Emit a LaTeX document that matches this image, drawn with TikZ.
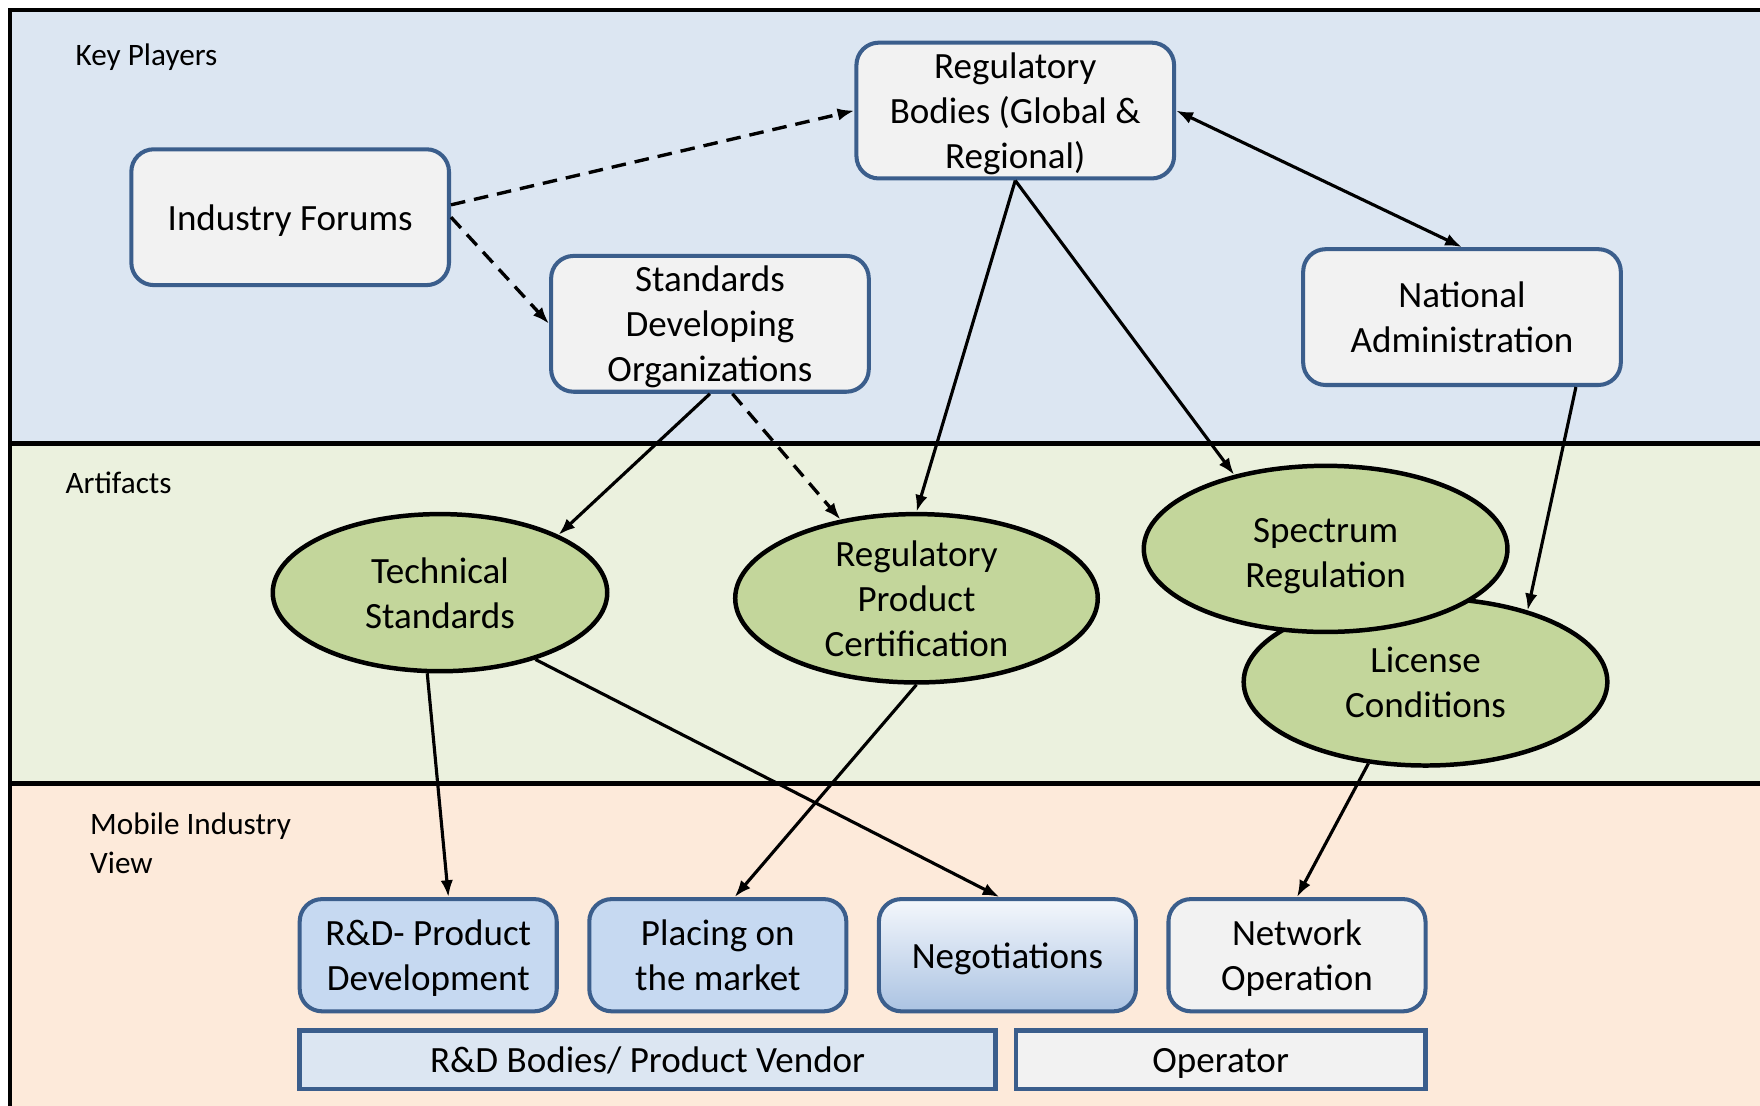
\documentclass[tikz,border=0pt]{standalone}
\usepackage{fontspec}
\setmainfont{Carlito}
\usetikzlibrary{arrows.meta,calc,shapes.geometric}

\definecolor{bandplayers}{HTML}{DCE6F2}
\definecolor{bandartifacts}{HTML}{EBF1DE}
\definecolor{bandindustry}{HTML}{FDEADA}
\definecolor{boxgray}{HTML}{F2F2F2}
\definecolor{boxedge}{HTML}{3B5E8C}
\definecolor{artifactgreen}{HTML}{C3D69B}
\definecolor{vendorblue}{HTML}{C6D9F1}
\definecolor{vendorbar}{HTML}{DCE6F2}
\definecolor{negtop}{HTML}{F4F7FC}
\definecolor{negmid}{HTML}{C4D6EC}
\definecolor{negbottom}{HTML}{ABC3E2}

\begin{document}
\begin{tikzpicture}[x=0.5pt,y=-0.5pt,
  nodefont/.style={font=\fontsize{16.5}{20}\selectfont},
  % text boxes centred on the capital letters of the lines
  oneline/.style={text height=11.6pt, text depth=0pt},
  twolines/.style={text height=31.6pt, text depth=0pt},
  threelines/.style={text height=51.6pt, text depth=0pt},
  player/.style={rectangle, rounded corners=10pt, draw=boxedge, line width=1.8pt,
    fill=boxgray, minimum width=141.5pt, minimum height=60.5pt, inner sep=0pt,
    align=center, nodefont},
  artifact/.style={ellipse, draw=black, line width=2pt, fill=artifactgreen,
    inner sep=-4pt, align=center, nodefont},
  activity/.style={player, minimum width=114.5pt, minimum height=50pt},
  bar/.style={rectangle, draw=boxedge, line width=2pt, minimum height=26pt,
    inner sep=0pt, nodefont, oneline},
  lane/.style={anchor=west, align=left, inner sep=0pt,
    font=\fontsize{13.9}{17.5}\selectfont},
  link/.style={line width=1.4pt, -{Latex[length=7.5pt,width=5.5pt]}},
  twoway/.style={line width=1.4pt, {Latex[length=7.5pt,width=5.5pt]}-{Latex[length=7.5pt,width=5.5pt]}},
  softlink/.style={link, line width=1.5pt, dash pattern=on 6.5pt off 4pt},
  frame/.style={line width=2pt, line join=miter},
]
\useasboundingbox (0,0) rectangle (1568,985);

% three horizontal lanes
\fill[bandplayers] (9,9) rectangle (1568,395);
\fill[bandartifacts] (9,395) rectangle (1568,698);
\fill[bandindustry] (9,698) rectangle (1568,985);
\draw[frame] (1580,9) -- (9,9) -- (9,995);
\draw[frame] (9,395) -- (1580,395);
\draw[frame] (9,698) -- (1580,698);

\node[lane] (lblplayers) at (67,51) {Key Players};
\node[lane] (lblartifacts) at (58,430) {Artifacts};
\node[lane] (lblindustry) at (80,751) {Mobile Industry\\View};

% key players
\node[player, oneline] (forums) at (258.5,193.5) {Industry Forums};
\node[player, threelines] (regbodies) at (904.5,98.5) {Regulatory\\Bodies (Global \&\\Regional)};
\node[player, threelines] (sdo) at (632.5,288.5) {Standards\\Developing\\Organizations};
\node[player, twolines] (natadmin) at (1302.5,282.5) {National\\Administration};

% artifacts
\node[artifact, twolines, minimum width=149pt, minimum height=70pt] (techstd) at (392,528) {Technical\\Standards};
\node[artifact, threelines, minimum width=161.5pt, minimum height=75pt] (rpc) at (816.5,533) {Regulatory\\Product\\Certification};
\node[artifact, twolines, minimum width=162pt, minimum height=74.5pt] (license) at (1270,607.5) {License\\Conditions};
\node[artifact, twolines, text height=34.6pt, minimum width=162pt, minimum height=74pt] (spectrum) at (1181,489) {Spectrum\\Regulation};

% mobile industry view
\node[activity, twolines, fill=vendorblue] (rnd) at (381.5,851) {R\&D- Product\\Development};
\node[activity, twolines, fill=vendorblue] (market) at (639.5,851) {Placing on\\the market};
\node[activity, oneline, top color=negtop, middle color=negmid, bottom color=negbottom] (negot) at (897.5,851) {Negotiations};
\node[activity, twolines] (netop) at (1155.5,851) {Network\\Operation};
\node[bar, fill=vendorbar, minimum width=310pt] (vendor) at (577,944) {R\&D Bodies/ Product Vendor};
\node[bar, fill=boxgray, minimum width=182.5pt] (operator) at (1087.5,944) {Operator};

% connectors
\draw[softlink] ([yshift=5.5pt]forums.east) -- (regbodies.west);
\draw[softlink] (forums.east) -- (sdo.west);
\draw[twoway] (regbodies.east) -- (natadmin.north);
\draw[link] (regbodies.south) -- (rpc.north);
\draw[link] (regbodies.south) -- (spectrum.141);
\draw[link] ([xshift=50.75pt]natadmin.south) -- (license.35);
\draw[link] (sdo.south) -- (techstd.26);
\draw[softlink] ([xshift=10pt]sdo.south) -- (rpc.134);
\draw[link] (techstd.261) -- ([xshift=9pt]rnd.north);
\draw[link] (techstd.325) -- ([xshift=-3.5pt]negot.north);
\draw[link] (rpc.south) -- ([xshift=7.5pt]market.north);
\draw[link] (license.235) -- (netop.north);
\end{tikzpicture}
\end{document}
